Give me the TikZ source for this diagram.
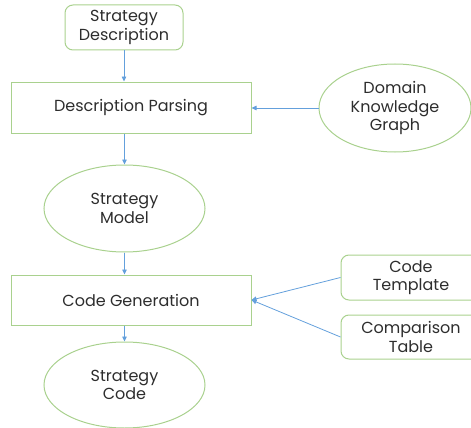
\documentclass[tikz,border=0pt]{standalone}
\usepackage{fontspec}
\setmainfont{Poppins}
\usetikzlibrary{arrows.meta,shapes.geometric}
\definecolor{grn}{RGB}{169,209,142}
\definecolor{blu}{RGB}{100,160,220}
\definecolor{txt}{RGB}{45,45,45}
\tikzset{
  base/.style={draw=grn,line width=1pt,inner sep=0pt,align=center,text=txt,font=\fontsize{16}{18.5}\selectfont},
  rbox/.style={base,rectangle,rounded corners=8pt},
  sbox/.style={base,rectangle},
  ell/.style={base,ellipse},
  conn/.style={draw=blu,line width=0.8pt,-{Triangle[length=5pt,width=4.5pt]}}
}
\begin{document}
\begin{tikzpicture}[x=1pt,y=-1pt]
\useasboundingbox (0,0) rectangle (471,428);
\clip (0,0) rectangle (471,428);
\node[rbox,minimum width=118pt,minimum height=45pt] (sd) at (124,27.5) {Strategy\\Description};
\node[sbox,minimum width=240pt,minimum height=51pt] (dp) at (131,107.5) {Description Parsing};
\node[ell,minimum width=152pt,minimum height=88pt] (dkg) at (395,108) {Domain\\Knowledge\\Graph};
\node[ell,minimum width=161pt,minimum height=87pt] (sm) at (124.5,208.5) {Strategy\\Model};
\node[sbox,minimum width=240pt,minimum height=50pt] (cg) at (131,300) {Code Generation};
\node[rbox,minimum width=140pt,minimum height=45pt,text width=140pt] (ct) at (411,277.5) {Code\\Template};
\node[rbox,minimum width=140pt,minimum height=44pt,text width=140pt] (cmp) at (411,337) {Comparison\\Table};
\node[ell,minimum width=161pt,minimum height=86pt] (sc) at (124.5,385) {Strategy\\Code};
\path[conn] (sd.south) -- (sd.south |- dp.north);
\path[conn] (sm.north |- dp.south) -- (sm.north);
\path[conn] (sm.south) -- (sm.south |- cg.north);
\path[conn] (sc.north |- cg.south) -- (sc.north);
\path[conn] (dkg.west) -- (dkg.west -| dp.east);
\path[conn] (ct.west) -- (cg.east);
\path[conn] (cmp.west) -- (cg.east);
\end{tikzpicture}
\end{document}
